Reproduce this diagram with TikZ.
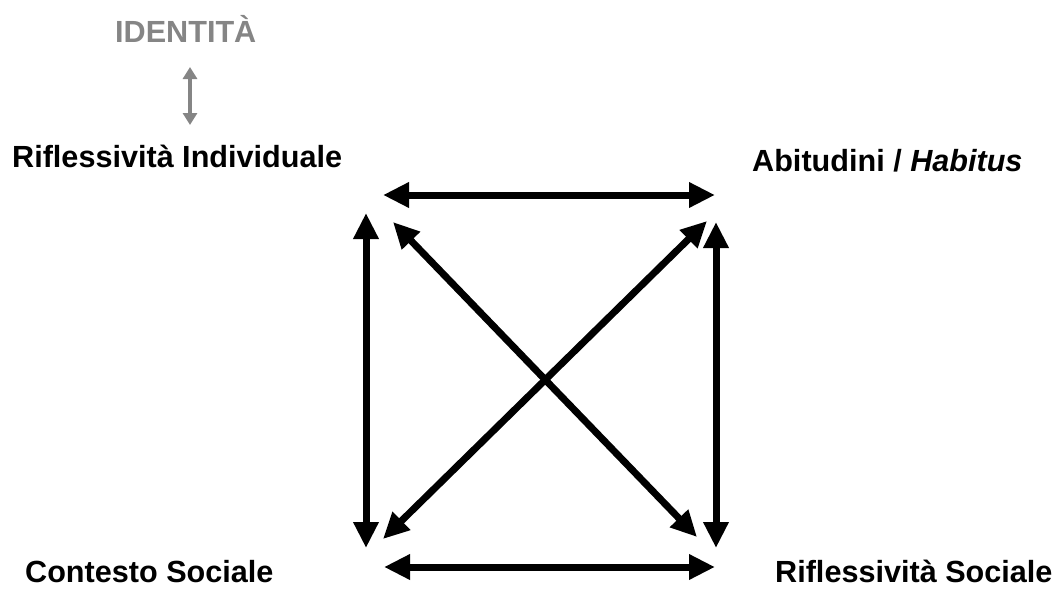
\documentclass[tikz,border=0pt]{standalone}
\usepackage{fontspec}
\setmainfont{Liberation Sans}
\usepackage{xcolor}
\usetikzlibrary{arrows.meta, positioning, calc}

\definecolor{idgray}{HTML}{858585}
\tikzset{
	lbl/.style={font=\bfseries\fontsize{30.6}{36}\selectfont, inner sep=0pt, anchor=base west},
	bigarrow/.style={line width=7pt, {Triangle[length=26pt,width=24pt]}-{Triangle[length=26pt,width=24pt]}},
	smallarrow/.style={idgray, line width=4pt, {Triangle[length=12pt,width=14pt]}-{Triangle[length=12pt,width=14pt]}}
}

\begin{document}
\begin{tikzpicture}[x=1pt, y=-1pt]
		\useasboundingbox (0,0) rectangle (1053,589);
		
		% Labels
		\node[lbl, text=idgray] (ident) at (115,42) {IDENTITÀ};
		\node[lbl] (rifind) at (12,167) {Riflessività Individuale};
		\node[lbl] (habitus) at (752,171) {Abitudini / \textit{Habitus}};
		\node[lbl] (contesto) at (25,582) {Contesto Sociale};
		\node[lbl] (rifsoc) at (775,582) {Riflessività Sociale};
		
		% Identita <-> riflessivita individuale
		\coordinate (idtop) at (190,67);
		\coordinate (idbot) at (190,125);
		\draw[smallarrow] (idtop) -- (idbot);
		
		% Ends of the square arrows
		\coordinate (topL) at (383,195);
		\coordinate (topR) at (715,195);
		\coordinate (botL) at (384,567);
		\coordinate (botR) at (715,567);
		\coordinate (leftT) at (366,213);
		\coordinate (leftB) at (366,548);
		\coordinate (rightT) at (716,222);
		\coordinate (rightB) at (716,548);
		\coordinate (diagAT) at (393,222);
		\coordinate (diagAB) at (697,537);
		\coordinate (diagBT) at (707,221);
		\coordinate (diagBB) at (383,539);
		
		% Square and diagonals
		\draw[bigarrow] (topL) -- (topR);
		\draw[bigarrow] (botL) -- (botR);
		\draw[bigarrow] (leftT) -- (leftB);
		\draw[bigarrow] (rightT) -- (rightB);
		\draw[bigarrow] (diagAT) -- (diagAB);
		\draw[bigarrow] (diagBT) -- (diagBB);
	\end{tikzpicture}
\end{document}
